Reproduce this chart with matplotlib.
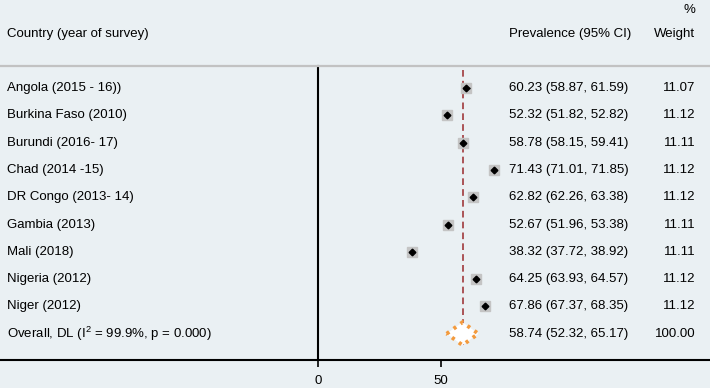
import matplotlib.pyplot as plt
import numpy as np

plt.rcParams["font.family"] = ["Liberation Sans", "DejaVu Sans"]

countries = ["Angola (2015 - 16))", "Burkina Faso (2010)", "Burundi (2016- 17)",
             "Chad (2014 -15)", "DR Congo (2013- 14)", "Gambia (2013)",
             "Mali (2018)", "Nigeria (2012)", "Niger (2012)"]
prev = [60.23, 52.32, 58.78, 71.43, 62.82, 52.67, 38.32, 64.25, 67.86]
lo = [58.87, 51.82, 58.15, 71.01, 62.26, 51.96, 37.72, 63.93, 67.37]
hi = [61.59, 52.82, 59.41, 71.85, 63.38, 53.38, 38.92, 64.57, 68.35]
weights = [11.07, 11.12, 11.11, 11.12, 11.12, 11.11, 11.11, 11.12, 11.12]

overall_label = "Overall, DL ($\\mathregular{I^2}$ = 99.9%, p = 0.000)"
overall = (58.74, 52.32, 65.17)
overall_weight = 100.00

xticks = [0, 50]

BG = "#eaf0f3"
fig = plt.figure(figsize=(7.1, 3.88), dpi=100, facecolor=BG)
# axes spans the plotting band: 66px .. 360px from top
ax = fig.add_axes([0, 28 / 388, 1, 294 / 388], facecolor=BG)

# 0 at 318px, 50 at 441px
scale = 123 / 50
ax.set_xlim(-318 / scale, (710 - 318) / scale)
ax.set_ylim(9.963, -0.806)

rows = np.arange(len(countries))
ax.hlines(rows, lo, hi, color="black", lw=1, zorder=3)
ax.plot(prev, rows, "s", color="#c4c4c4", markersize=7.5, zorder=2)
ax.plot(prev, rows, "D", color="black", markersize=3.4, zorder=4)

i_ov = len(countries)
h = 0.42
est, olo, ohi = overall
ax.vlines(est, -0.66, i_ov + h, color="#a0393c", lw=1.2,
          linestyles=(0, (4, 2.5)), zorder=1)
ax.fill([olo, est, ohi, est, olo], [i_ov, i_ov - h, i_ov, i_ov + h, i_ov],
        facecolor="white", edgecolor="#f39a3d", lw=2.8,
        linestyle=(0, (0.8, 1.4)), zorder=5)

tr = ax.get_yaxis_transform()
fs = 9.5
for i, (c, p, l, u, w) in enumerate(zip(countries, prev, lo, hi, weights)):
    ax.text(0.01, i, c, transform=tr, va="center", ha="left", fontsize=fs)
    ax.text(0.717, i, f"{p:.2f} ({l:.2f}, {u:.2f})", transform=tr,
            va="center", ha="left", fontsize=fs)
    ax.text(0.979, i, f"{w:.2f}", transform=tr, va="center", ha="right", fontsize=fs)
ax.text(0.01, i_ov, overall_label, transform=tr, va="center", ha="left", fontsize=fs)
ax.text(0.717, i_ov, f"{est:.2f} ({olo:.2f}, {ohi:.2f})", transform=tr,
        va="center", ha="left", fontsize=fs)
ax.text(0.979, i_ov, f"{overall_weight:.2f}", transform=tr, va="center",
        ha="right", fontsize=fs)

# headers
ax.text(0.01, -1.98, "Country (year of survey)", transform=tr, va="center",
        ha="left", fontsize=fs, clip_on=False)
ax.text(0.717, -1.98, "Prevalence (95% CI)", transform=tr, va="center",
        ha="left", fontsize=fs, clip_on=False)
ax.text(0.979, -1.98, "Weight", transform=tr, va="center", ha="right",
        fontsize=fs, clip_on=False)
ax.text(0.979, -2.86, "%", transform=tr, va="center", ha="right",
        fontsize=fs, clip_on=False)

ax.spines["right"].set_visible(False)
ax.spines["top"].set_color("#c2c2c2")
ax.spines["top"].set_linewidth(1.6)
ax.spines["left"].set_position(("data", 0))
ax.spines["left"].set_linewidth(1.5)
ax.spines["bottom"].set_linewidth(1.5)
ax.set_yticks([])
ax.set_xticks(xticks)
ax.tick_params(axis="x", length=5, width=1.2, pad=6, labelsize=fs)

fig.savefig("out.png", dpi=100, facecolor=BG)
